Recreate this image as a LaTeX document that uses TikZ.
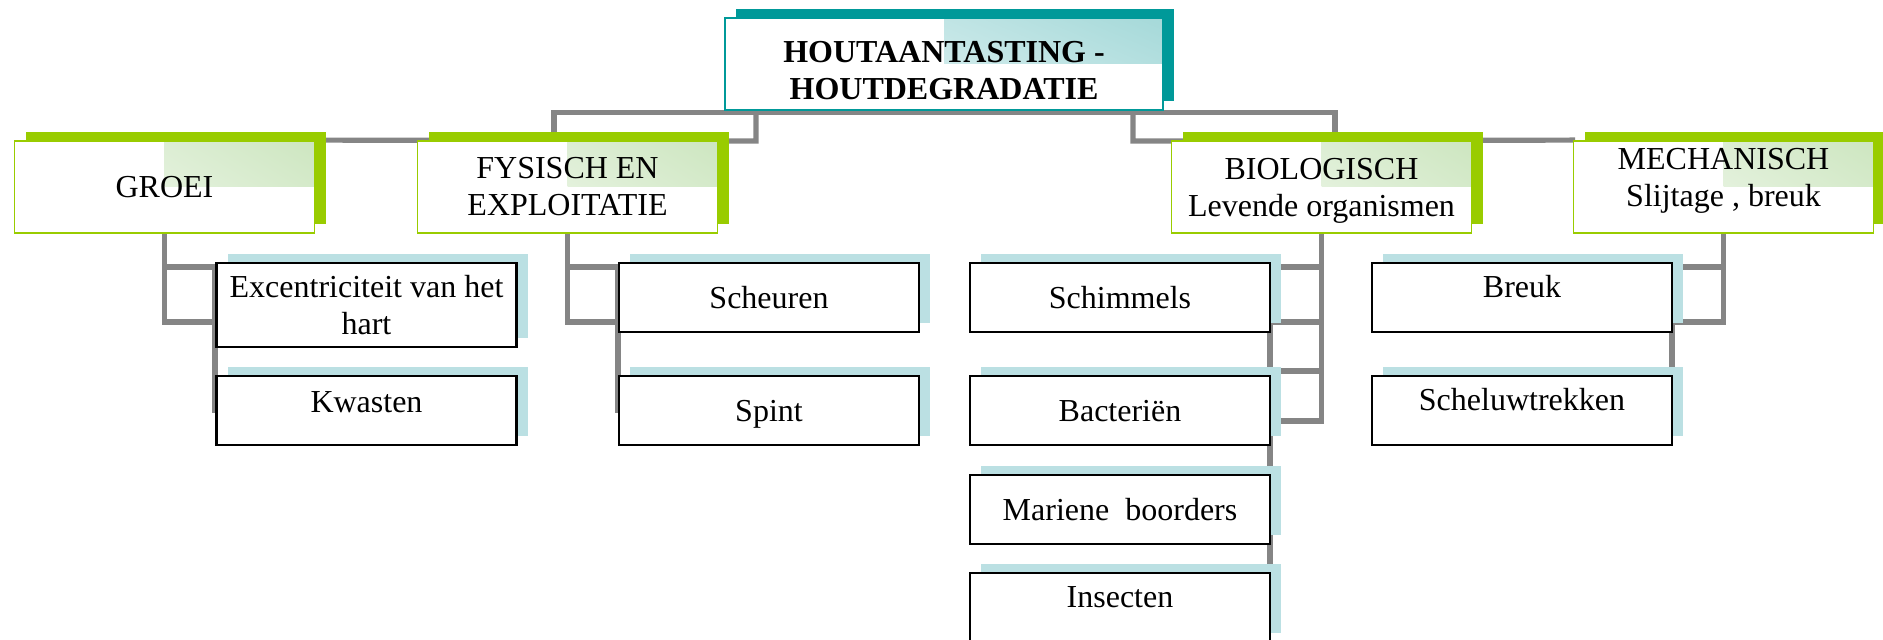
\documentclass[tikz,border=0pt]{standalone}
\usepackage{fontspec}
\setmainfont{Liberation Serif}
\usepackage{xcolor}
\usepackage{tikz}
\usetikzlibrary{shadows,shadings,backgrounds}

\definecolor{tealc}{HTML}{009999}
\definecolor{limec}{HTML}{99CC00}
\definecolor{icec}{HTML}{BBE0E3}
\definecolor{linkc}{HTML}{858585}
\definecolor{limepatch}{RGB}{205,230,192}
\definecolor{tealpatch}{RGB}{165,217,217}

\begin{document}
\begin{tikzpicture}[x=0.5pt,y=-0.5pt,line join=miter,
    every node/.style={inner sep=0pt,align=center,font=\fontsize{16}{18.5}\selectfont},
    headbox/.style={draw=tealc,line width=0.8pt,fill=white,minimum width=219pt,minimum height=46pt,
      font=\fontsize{16}{18.5}\selectfont\bfseries,
      general shadow={fill=tealc,shadow xshift=5.5pt,shadow yshift=4.5pt},
      path picture={\shade[upper right=tealpatch,upper left=tealpatch!40,lower right=tealpatch!70,lower left=tealpatch!10]
        (path picture bounding box.center) rectangle (path picture bounding box.north east);}},
    groupbox/.style={draw=limec,line width=0.9pt,fill=white,minimum width=150pt,minimum height=46pt,
      general shadow={fill=limec,shadow xshift=5.5pt,shadow yshift=4.5pt},
      path picture={\shade[upper right=limepatch,upper left=limepatch!40,lower right=limepatch!70,lower left=limepatch!10]
        (path picture bounding box.center) rectangle (path picture bounding box.north east);}},
    leafbox/.style={draw=black,line width=1.1pt,fill=white,minimum width=150pt,minimum height=34.5pt,
      general shadow={fill=icec,shadow xshift=5.5pt,shadow yshift=4.5pt}},
    leafmid/.style={leafbox,text height=10.6pt,text depth=0pt},
    leaftop/.style={leafbox,text height=10.6pt,text depth=10.6pt},
    link/.style={draw=linkc,line width=2.6pt,line cap=rect}]
  \path[use as bounding box] (0,0) rectangle (1883,640);
  \clip (0,0) rectangle (1883,640);
  \coordinate (J1) at (554,141);
  \coordinate (J2) at (756,141);
  \coordinate (J3) at (1133,141);
  \coordinate (J4) at (1335,141);
  \coordinate (G1) at (215,267);
  \coordinate (G2) at (215,322);
  \coordinate (F1) at (618,267);
  \coordinate (F2) at (618,322);
  \coordinate (C1) at (1270,267);
  \coordinate (C2) at (1270,322);
  \coordinate (C3) at (1270,371);
  \coordinate (C4) at (1270,421);
  \coordinate (D1) at (1672,267);
  \coordinate (D2) at (1672,322);
  \node[headbox,text height=36pt,text depth=0pt] (T0) at (944,64) {HOUTAANTASTING -\\HOUTDEGRADATIE};
  \node[groupbox,text height=10.6pt,text depth=0pt] (A1) at (164.5,187) {GROEI};
  \node[groupbox,text height=29pt,text depth=0pt] (A2) at (567.5,187) {FYSISCH EN\\EXPLOITATIE};
  \node[groupbox,text height=30pt,text depth=0pt] (A3) at (1321.5,187) {BIOLOGISCH\\Levende organismen};
  \node[groupbox,text height=29pt,text depth=9pt] (A4) at (1723.5,187) {MECHANISCH\\Slijtage , breuk};
  \node[leafbox,minimum height=42pt] (B11) at (366.5,305) {Excentriciteit van het\\hart};
  \node[leafbox,text height=10.6pt,text depth=8.1pt] (B12) at (366.5,410.5) {Kwasten};
  \node[leafmid] (B21) at (769,297.5) {Scheuren};
  \node[leafmid] (B22) at (769,410.5) {Spint};
  \node[leafmid] (B31) at (1120,297.5) {Schimmels};
  \node[leafmid] (B32) at (1120,410.5) {Bacteriën};
  \node[leafmid] (B33) at (1120,509.5) {Mariene\ \ boorders};
  \node[leaftop] (B34) at (1120,607.5) {Insecten};
  \node[leaftop] (B41) at (1522,297.5) {Breuk};
  \node[leaftop] (B42) at (1522,410.5) {Scheluwtrekken};
  \begin{scope}[on background layer]
    \draw[link] (A1.north east) -- (J2) |- ([yshift=-0.75pt]T0.south);
    \draw[link] (J1) |- ([yshift=-0.75pt]T0.south);
    \draw[link] (A4.north west) -- (J3) |- ([yshift=-0.75pt]T0.south);
    \draw[link] (J4) |- ([yshift=-0.75pt]T0.south);
    \draw[link] (A1.south) |- (G2);
    \draw[link] (A1.south |- G1) -- (G1) |- (B12.west);
    \draw[link] (A2.south) |- (F2);
    \draw[link] (A2.south |- F1) -- (F1) |- (B22.west);
    \draw[link] (A3.south) |- (C4);
    \draw[link] (A3.south |- C1) -- (C1) |- (B34.east);
    \draw[link] (A3.south |- C2) -- (C2);
    \draw[link] (A3.south |- C3) -- (C3);
    \draw[link] (A4.south) |- (D2);
    \draw[link] (A4.south |- D1) -- (D1) |- (B42.east);
  \end{scope}
\end{tikzpicture}
\end{document}
